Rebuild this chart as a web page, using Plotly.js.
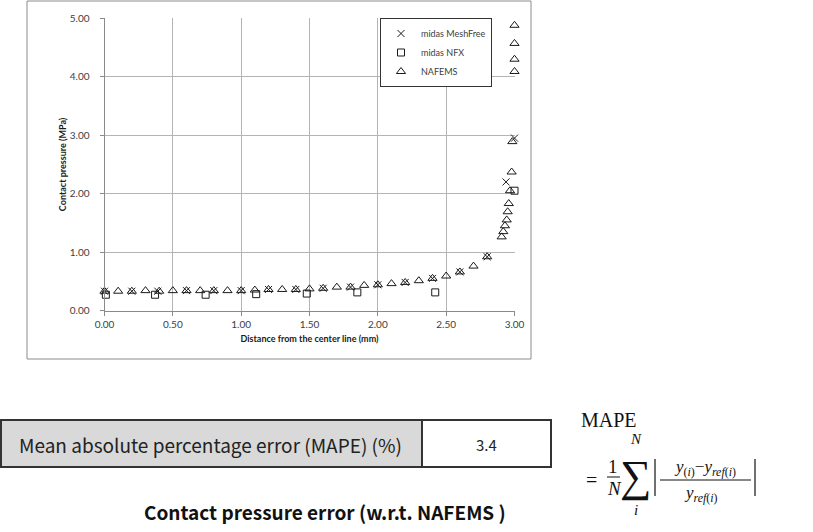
<!DOCTYPE html>
<html>
<head>
<meta charset="utf-8">
<script src="https://cdn.plot.ly/plotly-3.0.1.min.js"></script>
<style>html,body{margin:0;padding:0;background:#fff;}#chart{width:813px;height:532px;}</style>
</head>
<body>
<div id="chart"></div>
<script>
// ---- data ----
const nafemsX = [0,0.1,0.2,0.3,0.4,0.5,0.6,0.7,0.8,0.9,1.0,1.1,1.2,1.3,1.4,1.5,1.6,1.7,1.8,1.9,2.0,2.1,2.2,2.3,2.4,2.5,2.6,2.7,2.8,
                 2.906,2.918,2.930,2.943,2.950,2.958,2.967,2.979,2.984,3.0,3.0,3.0,3.0];
const nafemsY = [0.33,0.33,0.33,0.34,0.33,0.34,0.34,0.34,0.34,0.34,0.34,0.35,0.36,0.36,0.36,0.37,0.38,0.40,0.40,0.43,0.44,0.46,0.48,0.51,0.55,0.59,0.66,0.76,0.92,
                 1.26,1.35,1.45,1.55,1.69,1.83,2.05,2.37,2.89,4.09,4.30,4.57,4.88];
const meshX = [0,0.2,0.39,0.6,0.8,1.0,1.2,1.4,1.6,1.8,2.0,2.2,2.4,2.6,2.8,2.938,3.0];
const meshY = [0.33,0.33,0.33,0.34,0.34,0.34,0.36,0.36,0.38,0.40,0.44,0.48,0.55,0.66,0.92,2.20,2.95];
const nfxX = [0.01,0.37,0.74,1.11,1.48,1.85,2.42,3.0];
const nfxY = [0.27,0.27,0.27,0.28,0.29,0.31,0.31,2.05];
const seriesNames = ['midas MeshFree','midas NFX','NAFEMS'];
const xTitle = 'Distance from the center line (mm)';
const yTitle = 'Contact pressure (MPa)';
const tableLabel = 'Mean absolute percentage error (MAPE) (%)';
const tableValue = '3.4';
const caption = 'Contact pressure error (w.r.t. NAFEMS )';

// pixel -> paper helpers (margins are zero, so paper == figure)
const W = 813, H = 532;
const P = x => x / W;
const Q = y => 1 - y / H;

const mk = (sym, sz) => ({symbol: sym, size: sz, color: '#1a1a1a', line: {color: '#1a1a1a', width: 1}});

const traces = [
  {x: meshX, y: meshY, name: seriesNames[0], type: 'scatter', mode: 'markers', cliponaxis: false,
   marker: mk('x-thin', 7)},
  {x: nfxX, y: nfxY, name: seriesNames[1], type: 'scatter', mode: 'markers', cliponaxis: false,
   marker: mk('square-open', 7)},
  {x: nafemsX, y: nafemsY, name: seriesNames[2], type: 'scatter', mode: 'markers', cliponaxis: false,
   marker: mk('triangle-up-open', 8)}
];

const tickFont = {family: 'Lato, Open Sans, sans-serif', size: 10, color: '#404040'};
const serif = 'Liberation Serif, DejaVu Serif, serif';
const kr = 'Noto Sans CJK KR, Noto Sans, sans-serif';

const ann = (x, y, text, font, extra) => Object.assign({xref: 'paper', yref: 'paper', x: P(x), y: Q(y),
  text: text, showarrow: false, font: font, xanchor: 'center', yanchor: 'middle'}, extra || {});

const layout = {
  width: W, height: H,
  margin: {l: 0, r: 0, t: 0, b: 0},
  paper_bgcolor: '#fff', plot_bgcolor: '#fff',
  showlegend: true,
  legend: {x: P(380), y: Q(18), xanchor: 'left', yanchor: 'top', bgcolor: '#fff',
           bordercolor: '#333', borderwidth: 1, font: {family: 'Lato, Open Sans, sans-serif', size: 9, color: '#404040'}},
  xaxis: {domain: [P(104.5), P(514.5)], range: [0, 3], dtick: 0.5, tick0: 0, tickformat: '.2f',
          showgrid: true, gridcolor: '#b4b4b4', gridwidth: 1, zeroline: false,
          showline: true, linecolor: '#8a8a8a', linewidth: 1, ticks: 'outside', ticklen: 4, tickcolor: '#8a8a8a',
          tickfont: tickFont,
          title: {text: '<b>' + xTitle + '</b>', font: {family: 'Lato, Open Sans, sans-serif', size: 9, color: '#1a1a1a'}, standoff: 7}},
  yaxis: {domain: [Q(310.5), Q(18.3)], range: [0, 5], dtick: 1, tick0: 0, tickformat: '.2f',
          showgrid: true, gridcolor: '#b4b4b4', gridwidth: 1, zeroline: false,
          showline: true, linecolor: '#8a8a8a', linewidth: 1, ticks: 'outside', ticklen: 4, tickcolor: '#8a8a8a',
          ticklabelstandoff: 8,
          tickfont: tickFont,
          title: {text: '<b>' + yTitle + '</b>', font: {family: 'Lato, Open Sans, sans-serif', size: 9, color: '#1a1a1a'}, standoff: 1}},
  shapes: [
    // chart outer border
    {type: 'rect', xref: 'paper', yref: 'paper', x0: P(27), x1: P(531), y0: Q(1), y1: Q(359),
     line: {color: '#8c8c8c', width: 1}, fillcolor: 'rgba(0,0,0,0)', layer: 'below'},
    // table cells
    {type: 'rect', xref: 'paper', yref: 'paper', x0: P(1), x1: P(422), y0: Q(420), y1: Q(467),
     line: {color: '#333', width: 2}, fillcolor: '#d9d9d9'},
    {type: 'rect', xref: 'paper', yref: 'paper', x0: P(422), x1: P(551), y0: Q(420), y1: Q(467),
     line: {color: '#333', width: 2}, fillcolor: '#ffffff'},
    // formula lines
    {type: 'line', xref: 'paper', yref: 'paper', x0: P(607), x1: P(620), y0: Q(477), y1: Q(477), line: {color: '#111', width: 1}},
    {type: 'line', xref: 'paper', yref: 'paper', x0: P(655), x1: P(655), y0: Q(459), y1: Q(496), line: {color: '#111', width: 1.2}},
    {type: 'line', xref: 'paper', yref: 'paper', x0: P(755), x1: P(755), y0: Q(459), y1: Q(496), line: {color: '#111', width: 1.2}},
    {type: 'line', xref: 'paper', yref: 'paper', x0: P(660), x1: P(751), y0: Q(480), y1: Q(480), line: {color: '#111', width: 1}}
  ],
  annotations: [
    ann(211, 444, tableLabel, {family: kr, size: 19, color: '#222'}),
    ann(486, 444, tableValue, {family: kr, size: 15, color: '#222'}),
    ann(325, 511, '<b>' + caption + '</b>', {family: kr, size: 19, color: '#111'}),
    ann(609, 420, 'MAPE', {family: serif, size: 20, color: '#111'}),
    ann(591, 480, '=', {family: serif, size: 20, color: '#111'}),
    ann(613, 466, '1', {family: serif, size: 19, color: '#111'}),
    ann(614, 488, '<i>N</i>', {family: serif, size: 19, color: '#111'}),
    ann(636, 439, '<i>N</i>', {family: serif, size: 15, color: '#111'}),
    ann(635, 476, '\u2211', {family: serif, size: 44, color: '#111'}),
    ann(636, 510, '<i>i</i>', {family: serif, size: 15, color: '#111'}),
    ann(705, 468, '<i>y</i><sub>(<i>i</i>)</sub>\u2212<i>y</i><sub><i>ref</i>(<i>i</i>)</sub>', {family: serif, size: 17, color: '#111'}, {yanchor: 'bottom', y: Q(481)}),
    ann(701, 491, '<i>y</i><sub><i>ref</i>(<i>i</i>)</sub>', {family: serif, size: 17, color: '#111'}, {yanchor: 'top', y: Q(481)})
  ]
};

Plotly.newPlot('chart', traces, layout, {displayModeBar: false, staticPlot: true});
</script>
</body>
</html>
